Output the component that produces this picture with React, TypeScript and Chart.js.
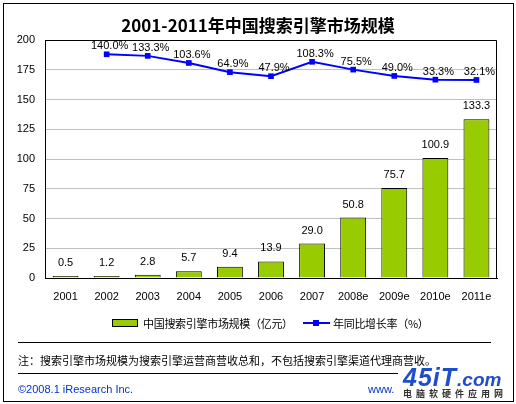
import React, { useEffect, useRef } from "react";
import { Chart, registerables } from "chart.js";

Chart.register(...registerables);

const categories = ["2001", "2002", "2003", "2004", "2005", "2006", "2007", "2008e", "2009e", "2010e", "2011e"];
const marketSize = [0.5, 1.2, 2.8, 5.7, 9.4, 13.9, 29.0, 50.8, 75.7, 100.9, 133.3];
const growthRate: (number | null)[] = [null, 140.0, 133.3, 103.6, 64.9, 47.9, 108.3, 75.5, 49.0, 33.3, 32.1];
const yMin = 0;
const yMax = 200;
const yStep = 25;
const rateAxisMin = -800;
const rateAxisMax = 200;

const titleText = "2001-2011年中国搜索引擎市场规模";
const barLegend = "中国搜索引擎市场规模（亿元）";
const lineLegend = "年同比增长率（%）";
const noteText = "注：搜索引擎市场规模为搜索引擎运营商营收总和，不包括搜索引擎渠道代理商营收。";
const footerText = "©2008.1 iResearch Inc.";
const wwwText = "www.";
const logoMain = "45iT";
const logoCom = ".com";
const logoSub = "电脑软硬件应用网";

const LATIN = "'Liberation Sans', Arial, sans-serif";
const CJK = "'Noto Sans CJK SC', 'Liberation Sans', sans-serif";
const BAR_COLOR = "#99CC00";
const LINE_COLOR = "#0000FF";

const framePlugin = {
  id: "frame",
  afterDatasetsDraw(chart: any) {
    const { ctx, chartArea } = chart;
    ctx.save();
    ctx.strokeStyle = "#000";
    ctx.lineWidth = 1;
    ctx.beginPath();
    ctx.moveTo(Math.round(chartArea.left) + 0.5, Math.round(chartArea.top) + 0.5);
    ctx.lineTo(Math.round(chartArea.right) - 0.5, Math.round(chartArea.top) + 0.5);
    ctx.lineTo(Math.round(chartArea.right) - 0.5, Math.round(chartArea.bottom));
    ctx.stroke();
    ctx.restore();
  },
};

const valueLabelPlugin = {
  id: "valueLabels",
  afterDatasetsDraw(chart: any) {
    const { ctx } = chart;
    ctx.save();
    ctx.fillStyle = "#000";
    ctx.font = `11px ${LATIN}`;
    ctx.textAlign = "center";
    ctx.textBaseline = "middle";
    const barMeta = chart.getDatasetMeta(0);
    barMeta.data.forEach((el: any, i: number) => {
      const v = marketSize[i];
      ctx.fillText(v.toFixed(1), el.x, Math.min(el.y, el.base - v * 0) - 13);
    });
    const lineMeta = chart.getDatasetMeta(1);
    lineMeta.data.forEach((el: any, i: number) => {
      const v = growthRate[i];
      if (v === null || v === undefined) return;
      ctx.fillText(v.toFixed(1) + "%", el.x + 3, el.y - 8);
    });
    ctx.restore();
  },
};

function ChartCanvas() {
  const ref = useRef<HTMLCanvasElement | null>(null);
  useEffect(() => {
    if (!ref.current) return;
    const chart = new Chart(ref.current, {
      type: "bar",
      data: {
        labels: categories,
        datasets: [
          {
            type: "bar",
            label: barLegend,
            data: marketSize,
            backgroundColor: BAR_COLOR,
            borderColor: "#000",
            borderWidth: 1,
            minBarLength: 2,
            barPercentage: 0.63,
            categoryPercentage: 1,
            yAxisID: "y",
            order: 2,
          },
          {
            type: "line",
            label: lineLegend,
            data: growthRate,
            borderColor: LINE_COLOR,
            backgroundColor: LINE_COLOR,
            borderWidth: 2,
            pointStyle: "rect",
            pointRadius: 4,
            pointBackgroundColor: LINE_COLOR,
            pointBorderColor: LINE_COLOR,
            pointBorderWidth: 0,
            tension: 0,
            yAxisID: "y1",
            order: 1,
          },
        ] as any,
      },
      options: {
        responsive: false,
        animation: false,
        devicePixelRatio: 1,
        layout: { padding: { left: 0, right: 19, top: 40, bottom: 96 } },
        plugins: {
          legend: { display: false },
          title: { display: false },
          tooltip: { enabled: false },
        },
        scales: {
          x: {
            grid: { display: false, drawTicks: false },
            border: { display: true, color: "#000", width: 1 },
            ticks: {
              color: "#000",
              font: { family: LATIN, size: 11 },
              padding: 12,
              maxRotation: 0,
              autoSkip: false,
            },
            afterFit: (scale: any) => {
              scale.height = 30;
              scale.paddingLeft = 0;
              scale.paddingRight = 0;
            },
          },
          y: {
            min: yMin,
            max: yMax,
            position: "left",
            grid: { color: "#c0c0c0", lineWidth: 1, drawTicks: false },
            border: { display: true, color: "#000", width: 1 },
            ticks: {
              stepSize: yStep,
              color: "#000",
              font: { family: LATIN, size: 11 },
              padding: 10,
            },
            afterFit: (scale: any) => {
              scale.width = 45;
              scale.paddingTop = 0;
              scale.paddingBottom = 0;
            },
          },
          y1: {
            display: false,
            min: rateAxisMin,
            max: rateAxisMax,
            position: "right",
          },
        },
      } as any,
      plugins: [framePlugin, valueLabelPlugin],
    });
    return () => chart.destroy();
  }, []);
  return (
    <canvas
      ref={ref}
      width={516}
      height={404}
      style={{ position: "absolute", left: 0, top: 0, width: 516, height: 404 }}
    />
  );
}

export default function App() {
  const abs = (o: React.CSSProperties): React.CSSProperties => ({ position: "absolute", ...o });
  return (
    <div style={abs({ left: 0, top: 0, width: 516, height: 404, background: "#fff", overflow: "hidden" })}>
      <div style={abs({ left: 3, top: 3, width: 509, height: 397, border: "1px solid #000" })} />
      <ChartCanvas />
      <div
        style={abs({
          left: 0,
          top: 13,
          width: 516,
          textAlign: "center",
          fontFamily: CJK,
          fontWeight: "bold",
          fontSize: 17,
          lineHeight: "24px",
          color: "#000",
        })}
      >
        {titleText}
      </div>
      {/* legend */}
      <div style={abs({ left: 112, top: 319, width: 24, height: 6, background: BAR_COLOR, border: "1px solid #000" })} />
      <div
        style={abs({ left: 143, top: 315, fontFamily: CJK, fontSize: 11, lineHeight: "16px", letterSpacing: "-0.3px", color: "#000", whiteSpace: "nowrap" })}
      >
        {barLegend}
      </div>
      <div style={abs({ left: 303, top: 322, width: 27, height: 2, background: LINE_COLOR })} />
      <div style={abs({ left: 313, top: 320, width: 6, height: 6, background: LINE_COLOR })} />
      <div
        style={abs({ left: 333, top: 315, fontFamily: CJK, fontSize: 11, lineHeight: "16px", letterSpacing: "-0.3px", color: "#000", whiteSpace: "nowrap" })}
      >
        {lineLegend}
      </div>
      {/* separators and note */}
      <div style={abs({ left: 18, top: 342, width: 473, height: 1, background: "#000" })} />
      <div
        style={abs({ left: 18, top: 352, fontFamily: CJK, fontSize: 11, lineHeight: "16px", color: "#000", whiteSpace: "nowrap" })}
      >
        {noteText}
      </div>
      <div style={abs({ left: 18, top: 373, width: 380, height: 1, background: "#000" })} />
      <div
        style={abs({ left: 18, top: 382, fontFamily: LATIN, fontSize: 11, lineHeight: "14px", color: "#0033CC", whiteSpace: "nowrap" })}
      >
        {footerText}
      </div>
      <div
        style={abs({ left: 368, top: 382, fontFamily: LATIN, fontSize: 11, lineHeight: "14px", color: "#0033CC", whiteSpace: "nowrap" })}
      >
        {wwwText}
      </div>
      {/* watermark logo */}
      <div style={abs({ left: 399, top: 368, width: 112, height: 32, background: "#fff" })} />
      <div
        style={abs({
          left: 403,
          top: 364,
          fontFamily: LATIN,
          fontStyle: "italic",
          fontWeight: "bold",
          color: "#1E4FC8",
          whiteSpace: "nowrap",
          lineHeight: "26px",
        })}
      >
        <span style={{ fontSize: 25, letterSpacing: "1px" }}>{logoMain}</span>
        <span style={{ fontSize: 19 }}>{logoCom}</span>
      </div>
      <div
        style={abs({ left: 403, top: 388, fontFamily: CJK, fontSize: 9, lineHeight: "11px", letterSpacing: "4px", color: "#333", whiteSpace: "nowrap", fontWeight: "bold" })}
      >
        {logoSub}
      </div>
    </div>
  );
}
